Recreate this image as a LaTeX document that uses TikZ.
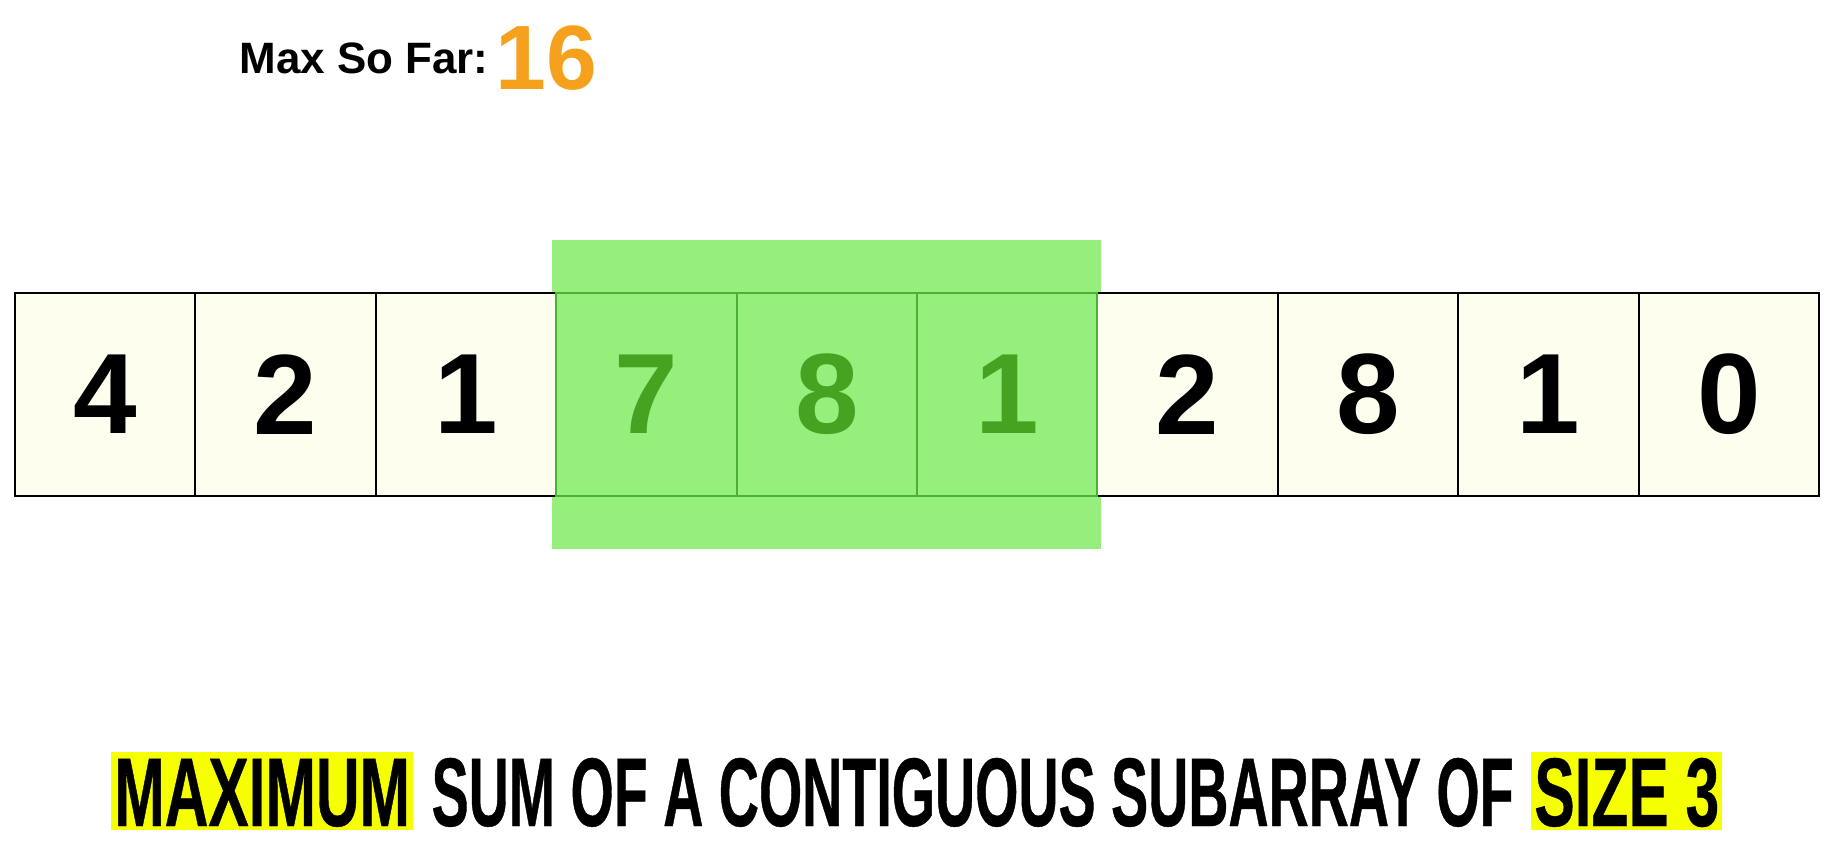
\documentclass[tikz,border=0pt]{standalone}
\usepackage{fontspec}
\setmainfont{Liberation Sans}
\newfontfamily\bannerfont[FakeStretch=0.57, FakeBold=0.4]{Liberation Sans}
\newfontfamily\hilitefont[FakeStretch=0.62, FakeBold=0.4]{Liberation Sans}
\usetikzlibrary{positioning, fit, backgrounds}
\definecolor{ccream}{HTML}{FEFEEE}
\definecolor{cwin}{HTML}{96EF7C}
\definecolor{cwinline}{HTML}{4DAF33}
\definecolor{cwintext}{HTML}{46A321}
\definecolor{cbest}{HTML}{F5A11E}
\definecolor{cmark}{HTML}{F5FF00}
\tikzset{
  cell/.style={draw=black, fill=ccream, line width=1.1pt, minimum width=3.608cm, minimum height=4.06cm, inner sep=0pt, font=\bfseries\fontsize{65}{65}\selectfont},
  wincell/.style={cell, draw=cwinline, fill=none, text=cwintext},
  head/.style={inner sep=0pt, font=\bfseries\fontsize{25}{25}\selectfont},
  best/.style={inner sep=0pt, text=cbest, font=\bfseries\fontsize{52}{52}\selectfont},
  banner/.style={font=\bannerfont\bfseries\fontsize{55.5}{55.5}\selectfont, text height=1.40cm, text depth=0pt, inner xsep=0.06cm, inner ysep=0.08cm},
  hilite/.style={banner, font=\hilitefont\bfseries\fontsize{55.5}{55.5}\selectfont, fill=cmark},
}
\begin{document}
\begin{tikzpicture}
  \useasboundingbox (0,0) rectangle (36.74,17.08);
  % the array, window cells last so their green borders stay on top
  \foreach \i/\v/\s in {1/4/cell,2/2/cell,3/1/cell,7/2/cell,8/8/cell,9/1/cell,10/0/cell,4/7/wincell,5/8/wincell,6/1/wincell}
    \node[\s] (c\i) at ({0.3+3.608*(\i-0.5)},9.19) {\v};
  \begin{scope}[on background layer]
    \node[fit=(c4)(c6), fill=cwin, inner xsep=0.06cm, inner ysep=1.04cm] (win) {};
  \end{scope}
  % running maximum
  \node[head] (maxlbl) at (7.28,15.92) {Max So Far:};
  \node[best, right=0.12cm of maxlbl] (bestval) {16};
  % caption
  \node[hilite, anchor=west] (maxw) at (2.22,1.26) {MAXIMUM};
  \node[banner, right=0.3cm of maxw] (mid) {SUM OF A CONTIGUOUS SUBARRAY OF};
  \node[hilite, right=0.28cm of mid] (sizew) {SIZE 3};
\end{tikzpicture}
\end{document}
